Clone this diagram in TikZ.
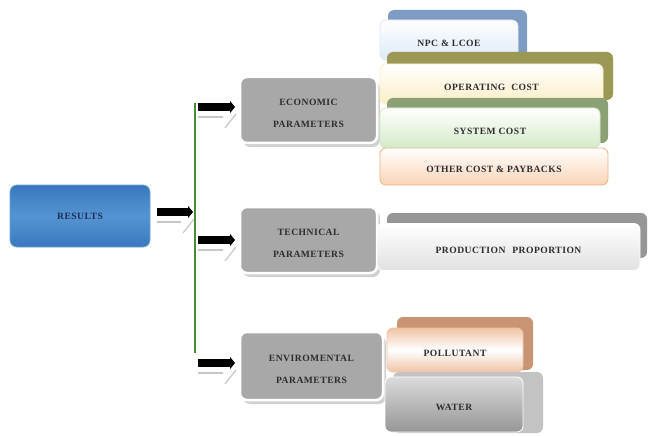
\documentclass[tikz,border=0pt]{standalone}
\usepackage{fontspec}
\setmainfont{Liberation Serif}[LetterSpace=5]
\usetikzlibrary{arrows.meta,shadows}
\definecolor{resblue}{RGB}{58,120,190}
\definecolor{resblueL}{RGB}{85,148,210}
\definecolor{resborder}{RGB}{110,160,215}
\definecolor{restext}{RGB}{30,45,85}
\definecolor{pgray}{RGB}{168,168,168}
\definecolor{ptext}{RGB}{45,45,45}
\definecolor{linegreen}{RGB}{70,140,50}
\definecolor{npcB}{RGB}{125,155,195}
\definecolor{npcF}{RGB}{222,233,248}
\definecolor{opB}{RGB}{155,152,85}
\definecolor{opF}{RGB}{253,238,198}
\definecolor{sysB}{RGB}{140,160,118}
\definecolor{sysF}{RGB}{212,234,200}
\definecolor{othB}{RGB}{240,175,130}
\definecolor{othF}{RGB}{250,212,182}
\definecolor{prodB}{RGB}{150,150,150}
\definecolor{prodF}{RGB}{225,225,225}
\definecolor{polB}{RGB}{200,148,115}
\definecolor{polF}{RGB}{240,196,165}
\definecolor{watB}{RGB}{195,195,195}
\definecolor{watF}{RGB}{150,150,150}
\begin{document}
\begin{tikzpicture}[x=1pt,y=-1pt,
  txt/.style={font=\fontsize{9.6}{12}\selectfont\bfseries},
  resbox/.style={rounded corners=7pt, draw=resborder, line width=0.8pt,
    top color=resblue, bottom color=resblue, middle color=resblueL,
    txt, text=restext},
  param/.style={rounded corners=7pt, fill=pgray, draw=white, line width=2.5pt,
    drop shadow={shadow xshift=3pt, shadow yshift=-4pt, fill=black!18, opacity=1}},
  ptxt/.style={txt, text=ptext, align=center, yshift=-3.5pt},
  backbox/.style={rounded corners=6pt, fill=#1, inner sep=0pt},
  frontbox/.style={rounded corners=6pt, draw=#1, line width=0.8pt, top color=white,
    bottom color=#1, txt, text=ptext, inner sep=0pt, text height=12.3pt, text depth=0pt},
  arr/.style={line width=8.5pt, -{Triangle[length=5pt,width=12pt]}},
  shade/.style={draw=black!22, line width=1.2pt}
]
\useasboundingbox (0,0) rectangle (649,436);

% left box
\node[resbox, minimum width=140, minimum height=62] (res) at (80,216) {RESULTS};

% green line
\coordinate (lt) at (195,103);
\coordinate (lb) at (195,353);
\draw[linegreen, line width=1.5pt] (lt) -- (lb);

% parameter boxes
\node[param, minimum width=137, minimum height=66,
  label={[ptxt]center:ECONOMIC\\[10pt]PARAMETERS}] (eco) at (308.5,110) {};
\node[param, minimum width=137, minimum height=66,
  label={[ptxt]center:TECHNICAL\\[10pt]PARAMETERS}] (tec) at (308.5,240) {};
\node[param, minimum width=143, minimum height=68,
  label={[ptxt]center:ENVIROMENTAL\\[10pt]PARAMETERS}] (env) at (311.5,366) {};

% arrows
\coordinate (r0) at (157,212);
\coordinate (r1) at (193,212);
\coordinate (e0) at (198,107);
\coordinate (t0) at (198,240);
\coordinate (v0) at (198,363);
\coordinate (e1) at (235,107);
\coordinate (t1) at (235,240);
\coordinate (v1) at (235,363);
% arrow shadows
\foreach \a/\b in {r0/r1, e0/e1, t0/t1, v0/v1}{
  \draw[shade] ([yshift=-10pt]\a) -- ([xshift=-12pt,yshift=-10pt]\b);
  \draw[shade] ([xshift=-10pt,yshift=-21pt]\b) -- ([xshift=1pt,yshift=-7pt]\b);
}
\draw[arr] (r0) -- (r1);
\draw[arr] (e0) -- (e1);
\draw[arr] (t0) -- (t1);
\draw[arr] (v0) -- (v1);

% economic sub-boxes
\node[backbox=npcB, minimum width=139, minimum height=50] (npcb) at (457.5,35) {};
\node[frontbox=npcF, minimum width=138, minimum height=40] (npc) at (449,40) {NPC \& LCOE};
\node[backbox=opB, minimum width=226, minimum height=48] (opb) at (500,76) {};
\node[frontbox=opF, minimum width=223, minimum height=40] (op) at (491.5,84) {OPERATING\hspace{3pt} COST};
\node[backbox=sysB, minimum width=221, minimum height=45] (sysb) at (497.5,120.5) {};
\node[frontbox=sysF, minimum width=220, minimum height=40] (sys) at (490,128) {SYSTEM COST};
\node[frontbox=othF, draw=othB, minimum width=228, minimum height=37] (oth) at (494,166.5) {OTHER COST \& PAYBACKS};

% technical sub-box
\node[backbox=prodB, minimum width=260, minimum height=45] (prodb) at (517,235.5) {};
\node[frontbox=prodF, draw=white, minimum width=263, minimum height=47] (prod) at (508.5,247) {PRODUCTION\hspace{4pt} PROPORTION};

% environmental sub-boxes
\node[backbox=polB, minimum width=136, minimum height=53] (polb) at (465,343.5) {};
\node[frontbox=polF, draw=polF, top color=polF, bottom color=polF, middle color=white,
  minimum width=136, minimum height=44] (pol) at (455,350) {POLLUTANT};
\node[backbox=watB, minimum width=150, minimum height=61] (watb) at (468,402.5) {};
\node[frontbox=watF, draw=white, top color=black!14, bottom color=watF,
  minimum width=138, minimum height=55] (wat) at (454,404.5) {WATER};
\end{tikzpicture}
\end{document}
